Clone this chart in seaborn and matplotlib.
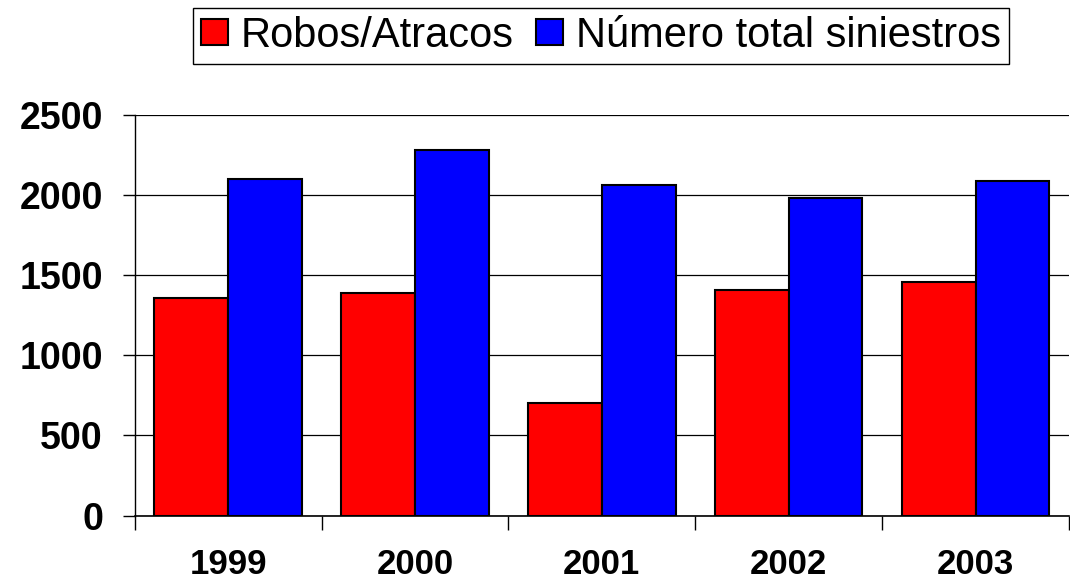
import numpy as np
import pandas as pd
import matplotlib
matplotlib.use('Agg')
import matplotlib.pyplot as plt
from matplotlib.ticker import FixedLocator
import seaborn as sns

years = ['1999', '2000', '2001', '2002', '2003']
robos = [1355, 1390, 705, 1410, 1455]
total = [2100, 2280, 2060, 1980, 2090]
series = ['Robos/Atracos', 'Número total siniestros']
colors = ['#ff0000', '#0000ff']

df = pd.DataFrame({
    'year': years * 2,
    'value': robos + total,
    'serie': [series[0]] * len(years) + [series[1]] * len(years),
})

sns.set_style('white')
plt.rcParams['font.family'] = ['Liberation Sans', 'DejaVu Sans']
plt.rcParams['text.color'] = 'black'
plt.rcParams['xtick.color'] = 'black'
plt.rcParams['ytick.color'] = 'black'

fig = plt.figure(figsize=(10.7, 5.8), dpi=100)
ax = fig.add_axes([0.126, 0.111, 0.873, 0.691])

sns.barplot(data=df, x='year', y='value', hue='serie', palette=colors,
            edgecolor='black', linewidth=1.5, width=0.79, saturation=1,
            ax=ax, zorder=3)

ax.set_xlim(-0.5, len(years) - 0.5)
ax.set_ylim(0, 2500)
ax.set_yticks(np.arange(0, 2501, 500))
ax.yaxis.grid(True, color='black', linewidth=0.9, zorder=0)
ax.set_axisbelow(True)

# ticks at the group boundaries, labels centred on the groups
ax.xaxis.set_minor_locator(FixedLocator(np.arange(-0.5, len(years), 1.0)))
ax.tick_params(axis='x', which='major', length=0, pad=23, labelsize=25)
ax.tick_params(axis='x', which='minor', length=10, width=1, color='black',
               direction='out', bottom=True)
ax.tick_params(axis='y', length=9, width=1, color='black', direction='out',
               pad=14, labelsize=27, left=True)
for lab in ax.get_xticklabels() + ax.get_yticklabels():
    lab.set_fontweight('bold')
    lab.set_color('black')

ax.set_xlabel('')
ax.set_ylabel('')
for s in ['top', 'right']:
    ax.spines[s].set_visible(False)
ax.spines['left'].set_color('black')
ax.spines['bottom'].set_color('black')
ax.spines['left'].set_linewidth(1)
ax.spines['bottom'].set_linewidth(1.2)

handles, labels = ax.get_legend_handles_labels()
ax.legend_.remove()
leg = fig.legend(handles, labels, loc='center', ncol=2,
                 bbox_to_anchor=(0.5617, 0.938), bbox_transform=fig.transFigure,
                 fontsize=30, frameon=True, fancybox=False, framealpha=1,
                 edgecolor='black', handlelength=0.65, handleheight=0.58,
                 handletextpad=0.31, columnspacing=0.53, borderpad=0.2,
                 borderaxespad=0)
leg.get_frame().set_linewidth(1)
for t in leg.get_texts():
    t.set_color('black')

fig.savefig('out.png', dpi=100)
